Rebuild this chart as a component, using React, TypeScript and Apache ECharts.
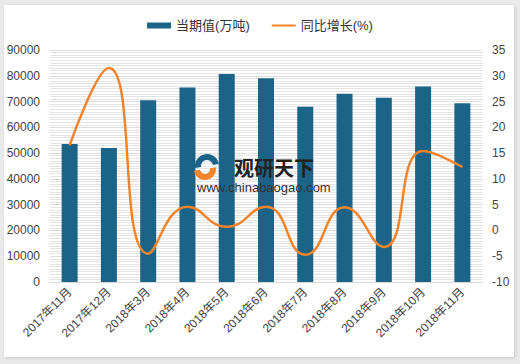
import React, { useEffect, useRef } from "react";
import * as echarts from "echarts";

const categories = [
  "2017年11月", "2017年12月", "2018年3月", "2018年4月", "2018年5月", "2018年6月",
  "2018年7月", "2018年8月", "2018年9月", "2018年10月", "2018年11月",
];
const currentValues = [53500, 52000, 70500, 75500, 80700, 79000, 68000, 73000, 71500, 75800, 69300];
const yoyGrowth = [16.5, 31.5, -4.5, 4.6, 0.7, 4.6, -4.7, 4.5, -3.2, 15.4, 12.3];
const seriesNames = ["当期值(万吨)", "同比增长(%)"];

export default function App() {
  const ref = useRef<HTMLDivElement>(null);
  useEffect(() => {
    if (!ref.current) return;
    const chart = echarts.init(ref.current, undefined, { renderer: "svg" });
    const font = "Arial, 'Noto Sans CJK SC', sans-serif";
    chart.setOption({
      animation: false,
      textStyle: { fontFamily: font },
      legend: {
        top: 14,
        left: "center",
        itemGap: 22,
        itemWidth: 24,
        itemHeight: 6,
        textStyle: { fontSize: 13, color: "#333", fontFamily: font },
        data: [
          { name: seriesNames[0], icon: "rect" },
          { name: seriesNames[1], icon: "path://M0,0 L24,0 L24,2 L0,2 Z" },
        ],
      },
      grid: { left: 50, right: 38, top: 50, bottom: 82 },
      xAxis: {
        type: "category",
        data: categories,
        axisLine: { show: true, lineStyle: { color: "#d9d9d9" } },
        axisTick: { show: false },
        axisLabel: { rotate: 45, fontSize: 12, color: "#444", margin: 8, interval: 0 },
      },
      yAxis: [
        {
          type: "value",
          min: 0,
          max: 90000,
          interval: 10000,
          axisLine: { show: false },
          axisTick: { show: false },
          axisLabel: { fontSize: 12, color: "#444", margin: 10, formatter: (v: number) => String(v) },
          splitLine: { show: true, lineStyle: { color: "#dcdcdc" } },
          minorTick: { show: false, splitNumber: 10 },
          minorSplitLine: { show: true, lineStyle: { color: "#e4e4e4" } },
        },
        {
          type: "value",
          min: -10,
          max: 35,
          interval: 5,
          axisLine: { show: false },
          axisTick: { show: false },
          axisLabel: { fontSize: 12, color: "#444", margin: 10, formatter: (v: number) => String(v) },
          splitLine: { show: false },
        },
      ],
      series: [
        {
          name: seriesNames[0],
          type: "bar",
          data: currentValues,
          barWidth: 16,
          itemStyle: { color: "#1b6488" },
        },
        {
          name: seriesNames[1],
          type: "line",
          yAxisIndex: 1,
          data: yoyGrowth,
          smooth: 0.5,
          symbol: "none",
          showSymbol: false,
          lineStyle: { color: "#f2842c", width: 2.5 },
          itemStyle: { color: "#f2842c" },
        },
      ],
      graphic: [
        {
          type: "sector",
          z: 100,
          silent: true,
          shape: { cx: 207, cy: 166, r: 12, r0: 6, startAngle: Math.PI * 0.95, endAngle: Math.PI * 1.95 },
          style: { fill: "#1b6488" },
        },
        {
          type: "sector",
          z: 100,
          silent: true,
          shape: { cx: 205, cy: 169, r: 11, r0: 5, startAngle: -Math.PI * 0.05, endAngle: Math.PI * 0.95 },
          style: { fill: "#f2842c" },
        },
        {
          type: "text",
          z: 100,
          silent: true,
          x: 234,
          y: 157,
          style: {
            text: "观研天下",
            font: "bold 20px 'Noto Sans CJK SC', sans-serif",
            lineHeight: 20,
            fill: "#222",
            verticalAlign: "top",
            align: "left",
          },
        },
        {
          type: "text",
          z: 100,
          silent: true,
          x: 197,
          y: 181,
          style: {
            text: "www.chinabaogao.com",
            font: "13px Arial, sans-serif",
            lineHeight: 13,
            fill: "#333",
            verticalAlign: "top",
            align: "left",
          },
        },
      ],
    });
    return () => chart.dispose();
  }, []);
  return (
    <div style={{ position: "fixed", left: 0, top: 0, width: 520, height: 364, background: "#e9e9e9" }}>
      <div
        style={{
          position: "absolute",
          left: 4,
          top: 5,
          width: 510,
          height: 352,
          background: "#fff",
          boxShadow: "1px 1px 3px rgba(0,0,0,0.15)",
        }}
      />
      <div ref={ref} style={{ position: "absolute", left: 0, top: 0, width: 520, height: 364 }} />
    </div>
  );
}
